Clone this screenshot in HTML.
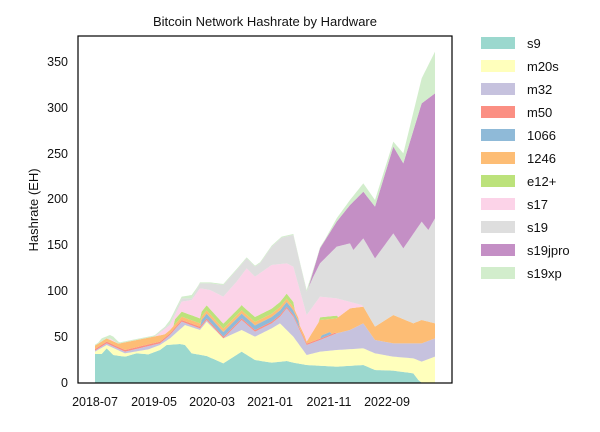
<!DOCTYPE html>
<html><head><style>
body{margin:0;background:#fff;}
svg text{font-family:"Liberation Sans",sans-serif;fill:#111;}
</style></head><body>
<svg id="s" width="600" height="427" xmlns="http://www.w3.org/2000/svg">
<g id="areas" transform="translate(60,0) scale(0.3333333)"></g>
<rect x="78" y="36" width="374" height="347" fill="none" stroke="#000" stroke-width="1.2"/>
<text x="265" y="26" font-size="13" text-anchor="middle">Bitcoin Network Hashrate by Hardware</text>
<text transform="translate(38,210) rotate(-90)" font-size="13" text-anchor="middle">Hashrate (EH)</text>
<g font-size="12.5" text-anchor="end">
<text x="68" y="387">0</text><text x="68" y="341">50</text><text x="68" y="295">100</text>
<text x="68" y="249">150</text><text x="68" y="203">200</text><text x="68" y="158">250</text>
<text x="68" y="112">300</text><text x="68" y="66">350</text>
</g>
<g font-size="12.5" text-anchor="middle">
<text x="95" y="406">2018-07</text><text x="154" y="406">2019-05</text><text x="212" y="406">2020-03</text>
<text x="270" y="406">2021-01</text><text x="329" y="406">2021-11</text><text x="387" y="406">2022-09</text>
</g>
<g id="leg" font-size="13"></g>
</svg>
<script>
var cols=["#8dd3c7","#ffffb3","#bebada","#fb8072","#80b1d3","#fdb462","#b3de69","#fccde5","#d9d9d9","#bc80bd","#ccebc5"];
var names=["s9","m20s","m32","m50","1066","1246","e12+","s17","s19","s19jpro","s19xp"];
var OP=0.88;
var leg=document.getElementById("leg"),NS="http://www.w3.org/2000/svg";
for(var i=0;i<11;i++){var y=43+i*23;var r=document.createElementNS(NS,"rect");r.setAttribute("x",481);r.setAttribute("y",y-6);r.setAttribute("width",34);r.setAttribute("height",12);r.setAttribute("fill",cols[i]);r.setAttribute("fill-opacity",OP);leg.appendChild(r);
var t=document.createElementNS(NS,"text");t.setAttribute("x",527);t.setAttribute("y",y+5);t.textContent=names[i];leg.appendChild(t);}
function interp(p,x){if(x<=p[0][0])return p[0][1];for(var i=1;i<p.length;i++){if(x<=p[i][0]){var a=p[i-1],b=p[i];return a[1]+(b[1]-a[1])*(x-a[0])/(b[0]-a[0]);}}return p[p.length-1][1];}
var X=[];for(var x=105;x<=1125;x+=5)X.push(x);
var s9=[[105,1062],[125,1062],[140,1045],[160,1065],[195,1070],[230,1060],[265,1063],[300,1050],[320,1035],[360,1032],[375,1035],[395,1060],[440,1068],[490,1090],[545,1055],[585,1080],[635,1088],[680,1083],[700,1088],[740,1095],[830,1100],[910,1095],[945,1110],[1000,1112],[1060,1120],[1075,1140],[1085,1148],[1125,1148]];
var m20=[[105,1055],[140,1035],[195,1060],[265,1048],[300,1035],[330,1015],[375,975],[420,990],[440,965],[490,1015],[545,990],[585,1010],[635,985],[660,970],[680,990],[700,1010],[740,1065],[780,1055],[830,1050],[910,1045],[945,1060],[1000,1070],[1060,1075],[1085,1085],[1125,1070]];
var m32=[[105,1052],[140,1030],[195,1055],[300,1030],[330,1005],[365,965],[420,985],[440,960],[490,1015],[545,960],[585,995],[635,970],[660,950],[680,925],[700,950],[740,1035],[780,1020],[830,1000],[870,990],[910,970],[945,1020],[1000,1030],[1060,1030],[1085,1030],[1125,1015]];
var o1246=[[105,1045],[330,1000],[365,950],[420,970],[440,945],[490,1000],[545,930],[585,975],[635,945],[680,905],[700,935],[740,1025],[780,960],[830,955],[870,925],[910,920],[945,980],[1000,945],[1060,970],[1085,960],[1125,970]];
var s17=[[105,1040],[125,1025],[150,1015],[195,1045],[265,1025],[330,975],[365,905],[395,900],[420,865],[450,870],[490,890],[530,845],[560,805],[585,830],[635,795],[680,790],[700,800],[740,945],[780,890],[830,895],[905,915],[915,1200]];
var s19=[[105,1040],[125,1025],[150,1015],[195,1045],[265,1025],[330,970],[365,895],[395,895],[420,850],[450,850],[490,855],[530,810],[560,775],[585,800],[600,790],[635,740],[665,713],[700,705],[740,875],[760,830],[780,790],[830,740],[870,730],[880,750],[910,715],[945,775],[1000,700],[1030,745],[1085,665],[1105,690],[1125,655]];
var jp=[[105,1200],[558,1200],[562,780],[585,800],[598,1200],[736,1200],[740,880],[780,745],[830,665],[870,615],[910,575],[945,620],[1000,440],[1030,490],[1085,310],[1125,280]];
var tot=[[105,1040],[125,1015],[150,1005],[160,1010],[195,1045],[230,1030],[265,1025],[300,1000],[330,960],[365,890],[395,885],[420,850],[450,850],[490,855],[530,810],[560,775],[585,800],[600,790],[635,740],[665,713],[700,705],[740,870],[780,745],[830,655],[870,600],[910,550],[945,600],[1000,425],[1030,460],[1085,235],[1125,155]];
var L0=X.map(function(x){return interp(s9,x)});
var L1=X.map(function(x,i){return Math.min(interp(m20,x),L0[i])});
var L2=X.map(function(x,i){return Math.min(interp(m32,x),L1[i])});
var L3=X.map(function(x,i){return L2[i]-(x<745?5:(x<830?4:0))});
var L4=X.map(function(x,i){return L3[i]-((x>420&&x<720)?14:((x>780&&x<815)?8:0))});
var L5=X.map(function(x,i){var v=interp(o1246,x);if(x<740)v=Math.min(L4[i]-10,v);return Math.min(v,L4[i])});
var L6=X.map(function(x,i){return L5[i]-((x>340&&x<705)?15:((x>775&&x<835)?8:0))});
var L7=X.map(function(x,i){return Math.min(interp(s17,x),L6[i])});
var L8=X.map(function(x,i){return Math.min(interp(s19,x),L7[i])});
var L9=X.map(function(x,i){return Math.min(interp(jp,x),L8[i])});
var L10=X.map(function(x,i){return Math.min(interp(tot,x),L9[i]-3)});
var Ls=[L0,L1,L2,L3,L4,L5,L6,L7,L8,L9,L10];
var base=X.map(function(){return 1148});
var g=document.getElementById("areas");
for(var k=0;k<11;k++){var lo=k?Ls[k-1]:base;var d="M"+X[0]+","+lo[0].toFixed(1);
for(var i=0;i<X.length;i++)d+="L"+X[i]+","+Ls[k][i].toFixed(1);
for(var i=X.length-1;i>=0;i--)d+="L"+X[i]+","+lo[i].toFixed(1);d+="Z";
var p=document.createElementNS(NS,"path");p.setAttribute("d",d);p.setAttribute("fill",cols[k]);p.setAttribute("fill-opacity",OP);g.appendChild(p);}
</script>
</body></html>
